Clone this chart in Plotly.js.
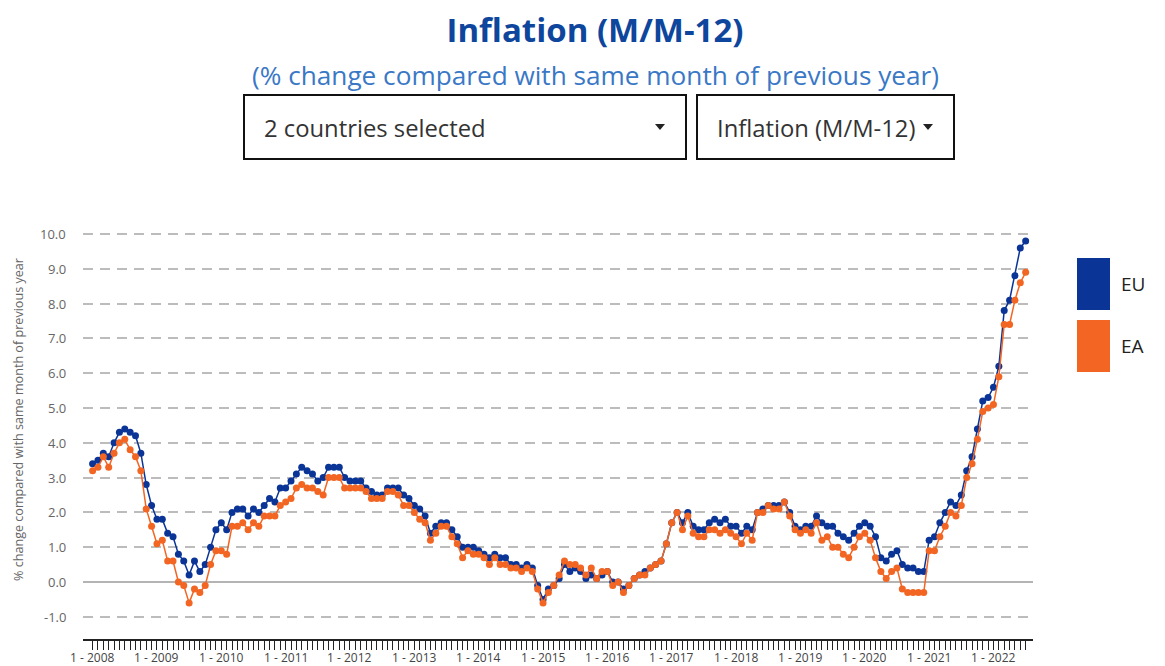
<!DOCTYPE html>
<html><head><meta charset="utf-8">
<script src="https://cdn.plot.ly/plotly-3.0.1.min.js"></script>
<style>html,body{margin:0;padding:0;background:#fff;} #chart{width:1165px;height:666px;}</style>
</head><body><div id="chart"></div>
<script>
// ---- data ----
const seriesNames = ['EU', 'EA'];
const seriesColors = ['#0a3597', '#f26522'];
const startYear = 2008;
// monthly values, Jan 2008 .. Jul 2022
const eu = [
  3.4, 3.5, 3.7, 3.6, 4.0, 4.3, 4.4, 4.3, 4.2, 3.7, 2.8, 2.2,
  1.8, 1.8, 1.4, 1.3, 0.8, 0.6, 0.2, 0.6, 0.3, 0.5, 1.0, 1.5,
  1.7, 1.5, 2.0, 2.1, 2.1, 1.9, 2.1, 2.0, 2.2, 2.4, 2.3, 2.7,
  2.7, 2.9, 3.1, 3.3, 3.2, 3.1, 2.9, 3.0, 3.3, 3.3, 3.3, 3.0,
  2.9, 2.9, 2.9, 2.7, 2.6, 2.5, 2.5, 2.7, 2.7, 2.7, 2.5, 2.4,
  2.2, 2.1, 1.9, 1.4, 1.6, 1.7, 1.7, 1.5, 1.3, 1.0, 1.0, 1.0,
  0.9, 0.8, 0.7, 0.8, 0.7, 0.7, 0.5, 0.5, 0.4, 0.5, 0.4, -0.1,
  -0.5, -0.2, -0.1, 0.1, 0.5, 0.3, 0.4, 0.3, 0.1, 0.2, 0.1, 0.2,
  0.3, 0.0, 0.0, -0.2, -0.1, 0.1, 0.2, 0.3, 0.4, 0.5, 0.6, 1.1,
  1.7, 2.0, 1.7, 2.0, 1.6, 1.5, 1.5, 1.7, 1.8, 1.7, 1.8, 1.6,
  1.6, 1.4, 1.6, 1.5, 2.0, 2.1, 2.2, 2.2, 2.2, 2.3, 2.0, 1.6,
  1.5, 1.6, 1.6, 1.9, 1.7, 1.6, 1.6, 1.4, 1.3, 1.2, 1.4, 1.6,
  1.7, 1.6, 1.3, 0.7, 0.6, 0.8, 0.9, 0.5, 0.4, 0.4, 0.3, 0.3,
  1.2, 1.3, 1.7, 2.0, 2.3, 2.2, 2.5, 3.2, 3.6, 4.4, 5.2, 5.3,
  5.6, 6.2, 7.8, 8.1, 8.8, 9.6, 9.8
];
const ea = [
  3.2, 3.3, 3.6, 3.3, 3.7, 4.0, 4.1, 3.8, 3.6, 3.2, 2.1, 1.6,
  1.1, 1.2, 0.6, 0.6, 0.0, -0.1, -0.6, -0.2, -0.3, -0.1, 0.5, 0.9,
  0.9, 0.8, 1.6, 1.6, 1.7, 1.5, 1.7, 1.6, 1.9, 1.9, 1.9, 2.2,
  2.3, 2.4, 2.7, 2.8, 2.7, 2.7, 2.6, 2.5, 3.0, 3.0, 3.0, 2.7,
  2.7, 2.7, 2.7, 2.6, 2.4, 2.4, 2.4, 2.6, 2.6, 2.5, 2.2, 2.2,
  2.0, 1.8, 1.7, 1.2, 1.4, 1.6, 1.6, 1.3, 1.1, 0.7, 0.9, 0.8,
  0.8, 0.7, 0.5, 0.7, 0.5, 0.5, 0.4, 0.4, 0.3, 0.4, 0.3, -0.2,
  -0.6, -0.3, -0.1, 0.2, 0.6, 0.5, 0.5, 0.4, 0.2, 0.4, 0.1, 0.3,
  0.3, -0.1, 0.0, -0.3, -0.1, 0.1, 0.2, 0.2, 0.4, 0.5, 0.6, 1.1,
  1.7, 2.0, 1.5, 1.9, 1.4, 1.3, 1.3, 1.5, 1.5, 1.4, 1.5, 1.4,
  1.3, 1.1, 1.4, 1.2, 2.0, 2.0, 2.2, 2.1, 2.1, 2.3, 1.9, 1.5,
  1.4, 1.5, 1.4, 1.7, 1.2, 1.3, 1.0, 1.0, 0.8, 0.7, 1.0, 1.3,
  1.4, 1.2, 0.7, 0.3, 0.1, 0.3, 0.4, -0.2, -0.3, -0.3, -0.3, -0.3,
  0.9, 0.9, 1.3, 1.6, 2.0, 1.9, 2.2, 3.0, 3.4, 4.1, 4.9, 5.0,
  5.1, 5.9, 7.4, 7.4, 8.1, 8.6, 8.9
];
const yTickVals = [-1, 0, 1, 2, 3, 4, 5, 6, 7, 8, 9, 10];
const titleText = 'Inflation (M/M-12)';
const subtitleText = '(% change compared with same month of previous year)';
const yTitleText = '% change compared with same month of previous year';
const dropdownTexts = ['2 countries selected', 'Inflation (M/M-12)'];

// month category labels "m - yyyy"
const months = eu.map((_, i) => ((i % 12) + 1) + ' - ' + (startYear + Math.floor(i / 12)));
const yearStarts = months.filter(m => m.indexOf('1 - ') === 0);

// ---- layout geometry (pixels) ----
const W = 1165, H = 666;
const L = 83, R = 1033, T = 225, B = 639;
const px = x => (x - L) / (R - L);
const py = y => (B - y) / (B - T);

const traces = [eu, ea].map((vals, k) => ({
  type: 'scatter', mode: 'lines+markers',
  x: months, y: vals, name: seriesNames[k],
  line: { color: seriesColors[k], width: 1.5 },
  marker: { color: seriesColors[k], size: 7 },
  cliponaxis: false
}));

const shapes = [];
const annotations = [];

// subtitle
annotations.push({ xref: 'paper', yref: 'paper', x: px(595), y: py(75), xanchor: 'center', yanchor: 'middle',
  text: subtitleText, showarrow: false, font: { family: 'Open Sans', size: 26.2, color: '#3a78c6' } });

// dropdown boxes
const boxes = [[244, 686], [697, 954]];
boxes.forEach((b, i) => {
  shapes.push({ type: 'rect', xref: 'paper', yref: 'paper', x0: px(b[0]), x1: px(b[1]), y0: py(159), y1: py(95),
    line: { color: '#111', width: 2 }, fillcolor: 'rgba(0,0,0,0)' });
  annotations.push({ xref: 'paper', yref: 'paper', x: px(b[0] + 18), y: py(128), xanchor: 'left', yanchor: 'middle',
    text: dropdownTexts[i], showarrow: false, font: { family: 'Open Sans', size: 23.8, color: '#333' } });
  const cx = b[1] - 26;
  shapes.push({ type: 'path', xref: 'paper', yref: 'paper',
    path: 'M ' + px(cx - 5) + ' ' + py(124) + ' L ' + px(cx + 5) + ' ' + py(124) + ' L ' + px(cx) + ' ' + py(130) + ' Z',
    fillcolor: '#222', line: { width: 0 } });
});

// y axis title
annotations.push({ xref: 'paper', yref: 'paper', x: px(18), y: py(420), xanchor: 'center', yanchor: 'middle',
  text: yTitleText, textangle: -90, showarrow: false, font: { family: 'Open Sans', size: 12.6, color: '#666' } });

// y tick labels (placed on the y scale)
yTickVals.forEach(v => {
  annotations.push({ xref: 'paper', yref: 'y', x: px(68), y: v, xanchor: 'right', yanchor: 'middle',
    text: v.toFixed(1), showarrow: false, font: { family: 'Open Sans', size: 13, color: '#666' } });
});

// x tick labels at each January (placed on the x scale)
yearStarts.forEach(m => {
  annotations.push({ xref: 'x', yref: 'paper', x: m, y: py(657), xanchor: 'center', yanchor: 'middle',
    text: m, showarrow: false, font: { family: 'Open Sans', size: 12, color: '#444' } });
});

// legend blocks
seriesNames.forEach((n, k) => {
  const top = 258 + k * 62, bot = top + 52;
  shapes.push({ type: 'rect', xref: 'paper', yref: 'paper', x0: px(1077), x1: px(1110), y0: py(bot), y1: py(top),
    fillcolor: seriesColors[k], line: { width: 0 } });
  annotations.push({ xref: 'paper', yref: 'paper', x: px(1119), y: py((top + bot) / 2), xanchor: 'left', yanchor: 'middle',
    text: n, showarrow: false, font: { family: 'Open Sans', size: 19, color: '#222' } });
});

const layout = {
  width: W, height: H,
  margin: { l: L, r: W - R, t: T, b: H - B, pad: 0 },
  paper_bgcolor: '#fff', plot_bgcolor: '#fff',
  showlegend: false,
  title: { text: '<b>' + titleText + '</b>', x: 595 / W, xref: 'container', xanchor: 'center',
    y: 1 - 30 / H, yref: 'container', yanchor: 'middle',
    font: { family: 'Open Sans', size: 33, color: '#0d469c' } },
  xaxis: {
    type: 'category', range: [-1.79, 175.37],
    tickmode: 'array', tickvals: months, showticklabels: false,
    ticks: 'outside', ticklen: 9, tickwidth: 1, tickcolor: '#222',
    showline: true, linecolor: '#222', linewidth: 2,
    showgrid: false, zeroline: false,
    fixedrange: true
  },
  yaxis: {
    range: [-1.638, 10.259], tickmode: 'array', tickvals: yTickVals,
    showticklabels: false,
    showgrid: true, gridcolor: '#bcbcbc', gridwidth: 2, griddash: '10px,7px',
    zeroline: true, zerolinecolor: '#b4b4b4', zerolinewidth: 2,
    showline: false, ticks: '',
    fixedrange: true
  },
  shapes: shapes,
  annotations: annotations
};

Plotly.newPlot('chart', traces, layout, { staticPlot: true, displayModeBar: false });
</script>
</body></html>
